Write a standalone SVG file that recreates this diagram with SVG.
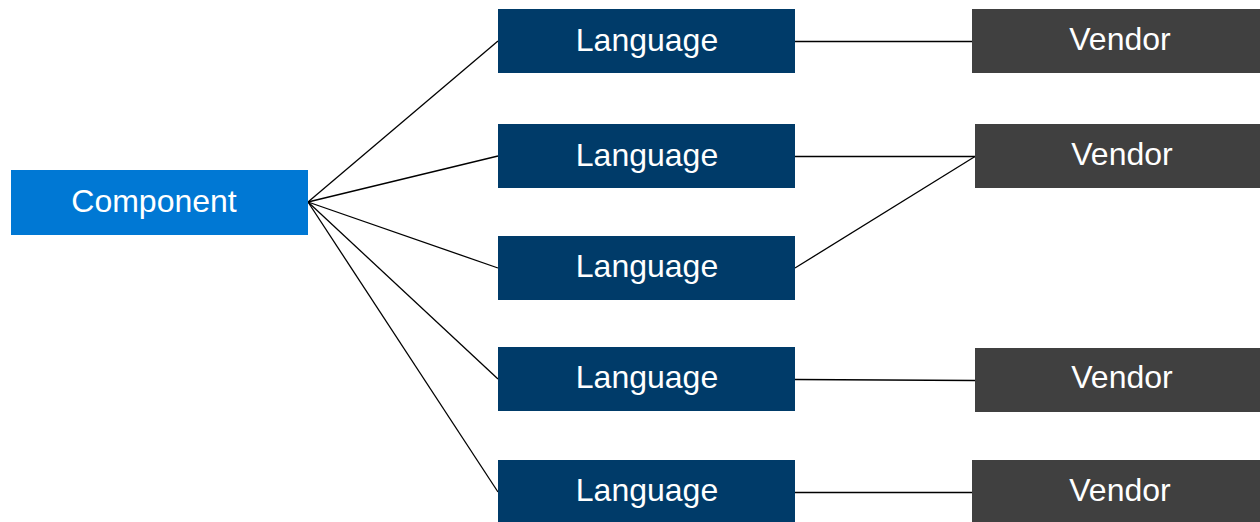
<svg xmlns="http://www.w3.org/2000/svg" width="1260" height="522" viewBox="0 0 1260 522">
<style>
.t{font-family:"Liberation Sans",Arial,sans-serif;font-size:32px;fill:#ffffff;text-anchor:middle}
.c{fill:#0078d4}
.l{fill:#003b69}
.v{fill:#404040}
.e{stroke:#000000;stroke-width:1.3;fill:none}
</style>
<rect width="1260" height="522" fill="#ffffff"/>
<g id="connectors">
<line class="e" x1="308" y1="202" x2="498" y2="41"/>
<line class="e" x1="308" y1="202" x2="498" y2="156"/>
<line class="e" x1="308" y1="202" x2="498" y2="268"/>
<line class="e" x1="308" y1="202" x2="498" y2="379"/>
<line class="e" x1="308" y1="202" x2="498" y2="492"/>
<line class="e" x1="795" y1="41.5" x2="972" y2="41.5"/>
<line class="e" x1="795" y1="156.5" x2="975" y2="156.5"/>
<line class="e" x1="795" y1="268" x2="975" y2="156.5"/>
<line class="e" x1="795" y1="379.5" x2="975" y2="380.5"/>
<line class="e" x1="795" y1="492.5" x2="972" y2="492.5"/>
</g>
<g id="component"><rect class="c" x="11" y="170" width="297" height="65"/><text class="t" x="154" y="212">Component</text></g>
<g id="language1"><rect class="l" x="498" y="9" width="297" height="64"/><text class="t" x="647" y="51">Language</text></g>
<g id="language2"><rect class="l" x="498" y="124" width="297" height="64"/><text class="t" x="647" y="166">Language</text></g>
<g id="language3"><rect class="l" x="498" y="236" width="297" height="64"/><text class="t" x="647" y="277">Language</text></g>
<g id="language4"><rect class="l" x="498" y="347" width="297" height="64"/><text class="t" x="647" y="388">Language</text></g>
<g id="language5"><rect class="l" x="498" y="460" width="297" height="62"/><text class="t" x="647" y="501">Language</text></g>
<g id="vendor1"><rect class="v" x="972" y="9" width="288" height="64"/><text class="t" x="1120" y="50">Vendor</text></g>
<g id="vendor2"><rect class="v" x="975" y="124" width="285" height="64"/><text class="t" x="1122" y="165">Vendor</text></g>
<g id="vendor4"><rect class="v" x="975" y="348" width="285" height="64"/><text class="t" x="1122" y="388">Vendor</text></g>
<g id="vendor5"><rect class="v" x="972" y="460" width="288" height="62"/><text class="t" x="1120" y="501">Vendor</text></g>
</svg>
